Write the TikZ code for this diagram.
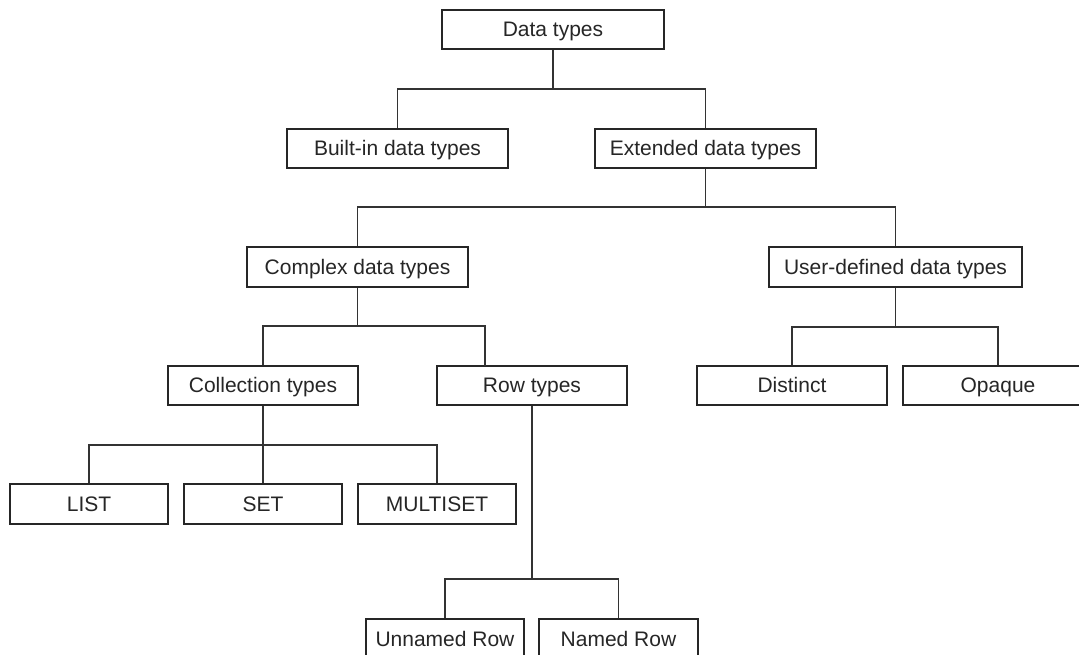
\documentclass[tikz,border=0pt]{standalone}
\usepackage{fontspec}
\setmainfont{Liberation Sans}
\begin{document}
\begin{tikzpicture}[x=1pt,y=-1pt,
  box/.style={draw=black!85,line width=1.2pt,fill=white,inner sep=0pt,minimum height=39pt,text height=15pt,text depth=1pt,font=\fontsize{21}{24}\selectfont,text=black!85},
  conn/.style={draw=black!80,line width=1.2pt}]
\useasboundingbox (0,0) rectangle (1079,655);
\clip (0,0) rectangle (1079,655);
% nodes
\node[box,minimum width=222pt] (data) at (553,29.5) {Data types};
\node[box,minimum width=221pt] (builtin) at (397.5,148.5) {Built-in data types};
\node[box,minimum width=221pt] (extended) at (705.5,148.5) {Extended data types};
\node[box,minimum width=221pt,minimum height=40pt] (complex) at (357.5,267) {Complex data types};
\node[box,minimum width=253pt,minimum height=40pt] (user) at (895.5,267) {User-defined data types};
\node[box,minimum width=190pt] (collection) at (263,385.5) {Collection types};
\node[box,minimum width=190pt] (row) at (532,385.5) {Row types};
\node[box,minimum width=190pt] (distinct) at (792,385.5) {Distinct};
\node[box,minimum width=190pt] (opaque) at (998,385.5) {Opaque};
\node[box,minimum width=158pt,minimum height=40pt] (list) at (89,504) {LIST};
\node[box,minimum width=158pt,minimum height=40pt] (set) at (263,504) {SET};
\node[box,minimum width=158pt,minimum height=40pt] (multiset) at (437,504) {MULTISET};
\node[box,minimum width=158pt,minimum height=40pt] (unnamed) at (445,639) {Unnamed Row};
\node[box,minimum width=159pt,minimum height=40pt] (named) at (618.5,639) {Named Row};
% junctions
\coordinate (j1) at (553,89);
\coordinate (j2) at (705.5,207);
\coordinate (j3) at (357.5,326);
\coordinate (j4) at (895.5,327);
\coordinate (j5) at (263,445);
\coordinate (j6) at (532,579);
\coordinate (rowtop) at (485,366);
% connectors
\draw[conn] (data.south) -- (j1);
\draw[conn] (builtin.north) |- (j1) -| (extended.north);
\draw[conn] (extended.south) -- (j2);
\draw[conn] (complex.north) |- (j2) -| (user.north);
\draw[conn] (complex.south) -- (j3);
\draw[conn] (collection.north) |- (j3) -| (rowtop);
\draw[conn] (user.south) -- (j4);
\draw[conn] (distinct.north) |- (j4) -| (opaque.north);
\draw[conn] (collection.south) -- (set.north);
\draw[conn] (list.north) |- (j5) -| (multiset.north);
\draw[conn] (row.south) -- (j6);
\draw[conn] (unnamed.north) |- (j6) -| (named.north);
\end{tikzpicture}
\end{document}
